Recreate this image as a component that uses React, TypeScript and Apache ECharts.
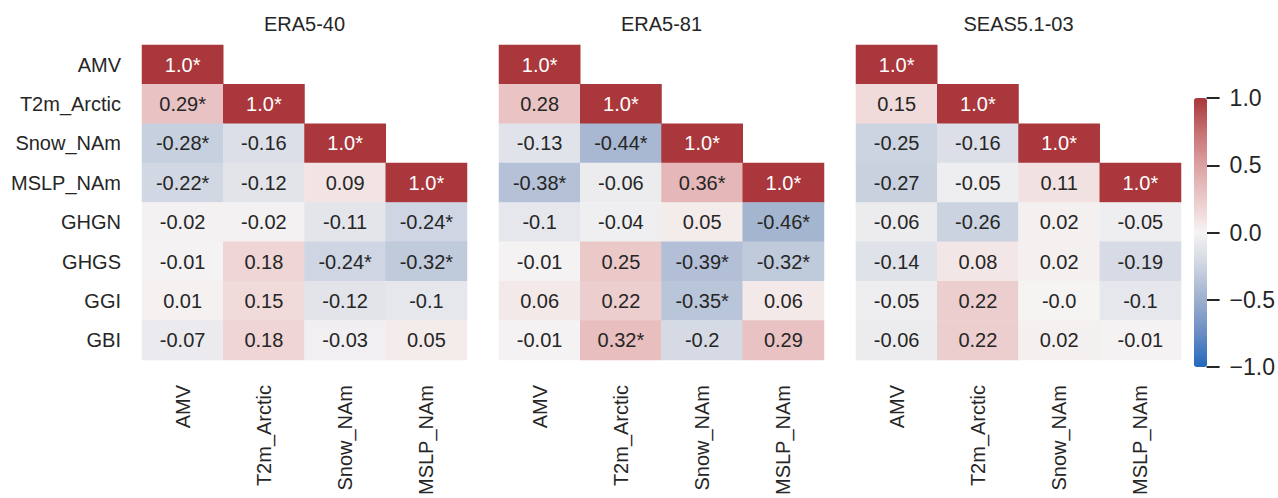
import React, { useEffect, useRef } from "react";
import * as echarts from "echarts";

// Variables shown in the correlation matrices
const rowNames = ["AMV", "T2m_Arctic", "Snow_NAm", "MSLP_NAm", "GHGN", "GHGS", "GGI", "GBI"];
const colNames = ["AMV", "T2m_Arctic", "Snow_NAm", "MSLP_NAm"];
const panelTitles = ["ERA5-40", "ERA5-81", "SEAS5.1-03"];

// Correlation coefficients (row-major, null = masked upper triangle)
const era540Values: (number | null)[][] = [
  [1.0, null, null, null],
  [0.29, 1.0, null, null],
  [-0.28, -0.16, 1.0, null],
  [-0.22, -0.12, 0.09, 1.0],
  [-0.02, -0.02, -0.11, -0.24],
  [-0.01, 0.18, -0.24, -0.32],
  [0.01, 0.15, -0.12, -0.1],
  [-0.07, 0.18, -0.03, 0.05],
];
const era540Sig: number[][] = [
  [1, 0, 0, 0],
  [1, 1, 0, 0],
  [1, 0, 1, 0],
  [1, 0, 0, 1],
  [0, 0, 0, 1],
  [0, 0, 1, 1],
  [0, 0, 0, 0],
  [0, 0, 0, 0],
];

const era581Values: (number | null)[][] = [
  [1.0, null, null, null],
  [0.28, 1.0, null, null],
  [-0.13, -0.44, 1.0, null],
  [-0.38, -0.06, 0.36, 1.0],
  [-0.1, -0.04, 0.05, -0.46],
  [-0.01, 0.25, -0.39, -0.32],
  [0.06, 0.22, -0.35, 0.06],
  [-0.01, 0.32, -0.2, 0.29],
];
const era581Sig: number[][] = [
  [1, 0, 0, 0],
  [0, 1, 0, 0],
  [0, 1, 1, 0],
  [1, 0, 1, 1],
  [0, 0, 0, 1],
  [0, 0, 1, 1],
  [0, 0, 1, 0],
  [0, 1, 0, 0],
];

const seas5Values: (number | null)[][] = [
  [1.0, null, null, null],
  [0.15, 1.0, null, null],
  [-0.25, -0.16, 1.0, null],
  [-0.27, -0.05, 0.11, 1.0],
  [-0.06, -0.26, 0.02, -0.05],
  [-0.14, 0.08, 0.02, -0.19],
  [-0.05, 0.22, -0.0, -0.1],
  [-0.06, 0.22, 0.02, -0.01],
];
const seas5Sig: number[][] = [
  [1, 0, 0, 0],
  [0, 1, 0, 0],
  [0, 0, 1, 0],
  [0, 0, 0, 1],
  [0, 0, 0, 0],
  [0, 0, 0, 0],
  [0, 0, 0, 0],
  [0, 0, 0, 0],
];

const colorbarTicks = [-1, -0.5, 0, 0.5, 1];

// Diverging blue-white-red palette (vlag-like)
const vlagStops = [
  "#2369bd",
  "#6a8cc4",
  "#9cafcd",
  "#cdd4e1",
  "#f6f3f3",
  "#ecc9c9",
  "#dca1a2",
  "#c67072",
  "#a9373b",
];

const FONT = "'Liberation Sans', Arial, Helvetica, sans-serif";
const TEXT = "#262626";

function fmt(v: number): string {
  if (Object.is(v, -0)) return "-0.0";
  if (Number.isInteger(v)) return v.toFixed(1);
  return String(v);
}

function buildData(values: (number | null)[][], sig: number[][]) {
  const out: any[] = [];
  values.forEach((row, r) => {
    row.forEach((v, c) => {
      if (v === null) return;
      const label = fmt(v) + (sig[r][c] ? "*" : "");
      out.push({
        value: [c, r, v, label],
        label: { color: Math.abs(v) > 0.6 ? "#ffffff" : TEXT },
      });
    });
  });
  return out;
}

export default function App() {
  const ref = useRef<HTMLDivElement>(null);

  useEffect(() => {
    if (!ref.current) return;
    const chart = echarts.init(ref.current, undefined, { renderer: "svg" });

    const panels = [
      { values: era540Values, sig: era540Sig },
      { values: era581Values, sig: era581Sig },
      { values: seas5Values, sig: seas5Sig },
    ];
    const lefts = [142, 499, 856];
    const gridW = 325;
    const gridTop = 45;
    const gridH = 322;

    const grids: any[] = lefts.map((l) => ({ left: l, top: gridTop, width: gridW, height: gridH }));
    // colorbar axis grid
    grids.push({ left: 1194, top: 98, width: 13, height: 269 });

    const xAxes: any[] = lefts.map((_, i) => ({
      type: "category",
      gridIndex: i,
      data: colNames,
      position: "bottom",
      axisLine: { show: false },
      axisTick: { show: false },
      splitLine: { show: false },
      axisLabel: {
        rotate: 90,
        margin: 25,
        fontSize: 20,
        fontFamily: FONT,
        color: TEXT,
        interval: 0,
      },
    }));
    xAxes.push({ type: "value", gridIndex: 3, show: false, min: 0, max: 1 });

    const yAxes: any[] = lefts.map((_, i) => ({
      type: "category",
      gridIndex: i,
      data: rowNames,
      inverse: true,
      axisLine: { show: false },
      axisTick: { show: false },
      splitLine: { show: false },
      axisLabel: {
        show: i === 0,
        margin: 21,
        fontSize: 20,
        fontFamily: FONT,
        color: TEXT,
        interval: 0,
      },
    }));
    yAxes.push({
      type: "value",
      gridIndex: 3,
      position: "right",
      min: -1,
      max: 1,
      interval: 0.5,
      axisLine: { show: false, onZero: false },
      splitLine: { show: false },
      axisTick: {
        show: true,
        length: 13,
        lineStyle: { color: TEXT, width: 2 },
      },
      axisLabel: {
        margin: 23,
        fontSize: 23,
        fontFamily: FONT,
        color: TEXT,
        formatter: (v: number) =>
          colorbarTicks.includes(v) ? v.toFixed(1).replace("-", "\u2212") : "",
      },
    });

    const series: any[] = panels.map((p, i) => ({
      type: "heatmap",
      xAxisIndex: i,
      yAxisIndex: i,
      data: buildData(p.values, p.sig),
      label: {
        show: true,
        fontSize: 20,
        fontFamily: FONT,
        formatter: (params: any) => params.value[3],
      },
      itemStyle: { borderWidth: 0 },
      emphasis: { disabled: true },
    }));

    chart.setOption({
      animation: false,
      backgroundColor: "#ffffff",
      title: panelTitles.map((t, i) => ({
        text: t,
        left: lefts[i] + gridW / 2,
        top: 14,
        textAlign: "center",
        padding: 0,
        textStyle: { fontSize: 20, fontWeight: "normal", fontFamily: FONT, color: TEXT },
      })),
      grid: grids,
      xAxis: xAxes,
      yAxis: yAxes,
      visualMap: {
        type: "continuous",
        min: -1,
        max: 1,
        dimension: 2,
        seriesIndex: [0, 1, 2],
        calculable: false,
        show: true,
        orient: "vertical",
        left: 1194,
        top: 98,
        itemWidth: 13,
        itemHeight: 269,
        padding: 0,
        hoverLink: false,
        inRange: { color: vlagStops },
      },
      series,
    });

    return () => {
      chart.dispose();
    };
  }, []);

  return (
    <div
      ref={ref}
      style={{ position: "fixed", left: 0, top: 0, width: 1278, height: 498 }}
    />
  );
}
